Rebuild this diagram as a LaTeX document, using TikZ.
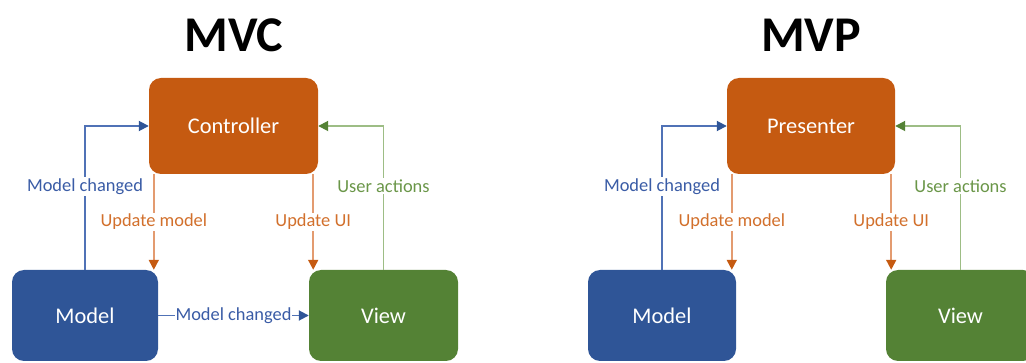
\documentclass[tikz,border=0pt]{standalone}
\usepackage{fontspec}
\setmainfont{Carlito}
\usetikzlibrary{arrows.meta}
\definecolor{boxorange}{HTML}{C55A11}
\definecolor{boxblue}{HTML}{2F5597}
\definecolor{boxgreen}{HTML}{548235}
\definecolor{lineorange}{HTML}{E39B70}
\definecolor{lineblue}{HTML}{5072B6}
\definecolor{linegreen}{HTML}{9DBD85}
\definecolor{txtorange}{HTML}{D2702C}
\definecolor{txtblue}{HTML}{3A5CA6}
\definecolor{txtgreen}{HTML}{6A9648}
\tikzset{
    part/.style={rectangle, rounded corners=12pt, text=white,
        font=\fontsize{22.4}{26}\selectfont, inner sep=0pt},
    lbl/.style={fill=white, inner sep=1.5pt, font=\fontsize{18.4}{21}\selectfont},
    title/.style={font=\fontsize{50}{56}\selectfont\bfseries},
    tip/.style={-{Triangle[length=10pt,width=10pt,color=#1]}},
    wire/.style={line width=1.8pt}
}

\begin{document}
\begin{tikzpicture}[x=1pt, y=-1pt]
    \useasboundingbox (0,0) rectangle (1026,363);
    \clip (0,0) rectangle (1026,363);

    % MVC
    \node (mvc) at (234,35) [title] {MVC};
    \node (ctrl) at (233.5,126) [part, fill=boxorange, minimum width=169pt, minimum height=96pt] {Controller};
    \node (model) at (85,315.5) [part, fill=boxblue, minimum width=146pt, minimum height=91pt] {Model};
    \node (view) at (383.5,315.5) [part, fill=boxgreen, minimum width=149pt, minimum height=91pt] {View};

    \draw[wire, lineblue, tip=boxblue] (model.north) |- (ctrl.west)
        node[lbl, text=txtblue, pos=0.29] {Model changed};
    \draw[wire, lineorange, tip=boxorange] ([xshift=5pt]ctrl.south west) -- ([xshift=5pt]ctrl.south west |- model.north)
        node[lbl, text=txtorange, midway] {Update model};
    \draw[wire, lineorange, tip=boxorange] ([xshift=-5pt]ctrl.south east) -- ([xshift=-5pt]ctrl.south east |- view.north)
        node[lbl, text=txtorange, midway] {Update UI};
    \draw[wire, linegreen, tip=boxgreen] (view.north) |- (ctrl.east)
        node[lbl, text=txtgreen, pos=0.29] {User actions};
    \draw[wire, lineblue, tip=boxblue] (model.east) -- (view.west)
        node[lbl, text=txtblue, midway, inner sep=0.5pt] {Model changed};

    % MVP
    \node (mvp) at (811,35) [title] {MVP};
    \node (pres) at (811,126) [part, fill=boxorange, minimum width=168pt, minimum height=96pt] {Presenter};
    \node (pmodel) at (662,315.5) [part, fill=boxblue, minimum width=148pt, minimum height=91pt] {Model};
    \node (pview) at (960.5,315.5) [part, fill=boxgreen, minimum width=149pt, minimum height=91pt] {View};

    \draw[wire, lineblue, tip=boxblue] (pmodel.north) |- (pres.west)
        node[lbl, text=txtblue, pos=0.29] {Model changed};
    \draw[wire, lineorange, tip=boxorange] ([xshift=5pt]pres.south west) -- ([xshift=5pt]pres.south west |- pmodel.north)
        node[lbl, text=txtorange, midway] {Update model};
    \draw[wire, lineorange, tip=boxorange] ([xshift=-4pt]pres.south east) -- ([xshift=-4pt]pres.south east |- pview.north)
        node[lbl, text=txtorange, midway] {Update UI};
    \draw[wire, linegreen, tip=boxgreen] (pview.north) |- (pres.east)
        node[lbl, text=txtgreen, pos=0.29] {User actions};
\end{tikzpicture}
\end{document}
